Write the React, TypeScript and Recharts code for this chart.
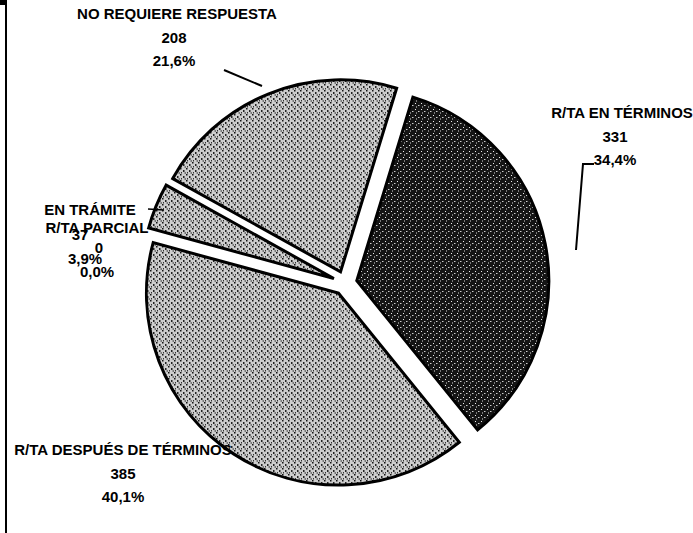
import { PieChart, Pie, Cell, Sector } from "recharts";

const categories = [
  "R/TA EN TÉRMINOS",
  "R/TA DESPUÉS DE TÉRMINOS",
  "R/TA PARCIAL",
  "EN TRÁMITE",
  "NO REQUIERE RESPUESTA",
];
const counts = [331, 385, 0, 37, 208];
const percents = ["34,4%", "40,1%", "0,0%", "3,9%", "21,6%"];

const pieData = categories.map((name, i) => ({
  name,
  value: counts[i],
  pct: percents[i],
}));

const fills = ["url(#darkDots)", "url(#lightDots)", "url(#lightDots)", "url(#lightDots)", "url(#lightDots)"];

// where Excel left each label block (center x, first line baseline, number x)
const labelPos: Record<number, { x: number; y: number; nx: number }> = {
  0: { x: 622, y: 118, nx: 615 },
  1: { x: 123, y: 455, nx: 123 },
  2: { x: 97, y: 233, nx: 97 },
  3: { x: 90, y: 215, nx: 90 },
  4: { x: 177, y: 19, nx: 174 },
};

const RAD = Math.PI / 180;

const ExplodedSlice = (props: any) => {
  const { cx, cy, midAngle, ...rest } = props;
  const d = 12;
  const ox = cx + d * Math.cos(-midAngle * RAD);
  const oy = cy + d * Math.sin(-midAngle * RAD);
  return <Sector {...rest} cx={ox} cy={oy} midAngle={midAngle} stroke="#000" strokeWidth={3} />;
};

const font = {
  fontFamily: "Liberation Sans, Arial, sans-serif",
  fontSize: 15,
  fontWeight: 700,
  fill: "#000",
};

const renderLabel = (props: any) => {
  const { index, name, value, payload } = props;
  const p = labelPos[index];
  if (!p) return null;
  if (index === 2) {
    // R/TA PARCIAL is squeezed under EN TRÁMITE
    return (
      <g>
        <text x={p.x} y={p.y} textAnchor="middle" {...font}>{name}</text>
        <text x={p.x + 2} y={p.y + 20} textAnchor="middle" {...font}>{value}</text>
        <text x={p.x} y={p.y + 44} textAnchor="middle" {...font}>{payload.pct}</text>
      </g>
    );
  }
  if (index === 3) {
    return (
      <g>
        <text x={p.x} y={p.y} textAnchor="middle" {...font}>{name}</text>
        <line x1={p.x + 58} y1={p.y - 6} x2={p.x + 74} y2={p.y - 5} stroke="#000" strokeWidth={1.5} />
        <text x={p.x - 10} y={p.y + 25} textAnchor="middle" {...font}>{value}</text>
        <text x={p.x - 5} y={p.y + 49} textAnchor="middle" {...font}>{payload.pct}</text>
      </g>
    );
  }
  return (
    <g>
      <text x={p.x} y={p.y} textAnchor="middle" {...font}>{name}</text>
      <text x={p.nx} y={p.y + 24} textAnchor="middle" {...font}>{value}</text>
      <text x={p.nx} y={p.y + 47} textAnchor="middle" {...font}>{payload.pct}</text>
      {index === 4 && (
        <polyline points="224,70 262,86" fill="none" stroke="#000" strokeWidth={2} />
      )}
      {index === 0 && (
        <polyline points="594,164 583,164 576,250" fill="none" stroke="#000" strokeWidth={2} />
      )}
    </g>
  );
};

export default function App() {
  return (
    <div style={{ position: "absolute", left: 0, top: 0, width: 693, height: 533, background: "#fff" }}>
      <div style={{ position: "absolute", left: 5, top: 0, width: 2, height: 533, background: "#000" }} />
      <div style={{ position: "absolute", left: 0, top: 0, width: 7, height: 5, background: "#000" }} />
      <PieChart width={693} height={533} style={{ position: "absolute", left: 0, top: 0 }}>
        <defs>
          <pattern id="lightDots" width="6" height="6" patternUnits="userSpaceOnUse">
            <rect width="6" height="6" fill="#cdcdcd" />
            <rect x="0" y="0" width="1.5" height="1.5" fill="#111" />
            <rect x="3" y="2" width="1.5" height="2" fill="#222" />
            <rect x="4.5" y="4.5" width="1.5" height="1" fill="#222" />
            <rect x="1" y="4" width="1" height="1.5" fill="#333" />
          </pattern>
          <pattern id="darkDots" width="6" height="6" patternUnits="userSpaceOnUse">
            <rect width="6" height="6" fill="#151515" />
            <rect x="1" y="1" width="1" height="1" fill="#eee" />
            <rect x="4" y="3" width="1.5" height="1" fill="#ccc" />
            <rect x="2" y="4.5" width="1" height="1" fill="#ddd" />
          </pattern>
        </defs>
        <Pie
          data={pieData}
          dataKey="value"
          nameKey="name"
          cx={340}
          cy={278}
          outerRadius={192}
          startAngle={73}
          endAngle={-287}
          stroke="#000"
          strokeWidth={3}
          shape={ExplodedSlice}
          label={renderLabel}
          labelLine={false}
          isAnimationActive={false}
        >
          {pieData.map((d, i) => (
            <Cell key={d.name} fill={fills[i]} />
          ))}
        </Pie>
      </PieChart>
    </div>
  );
}
